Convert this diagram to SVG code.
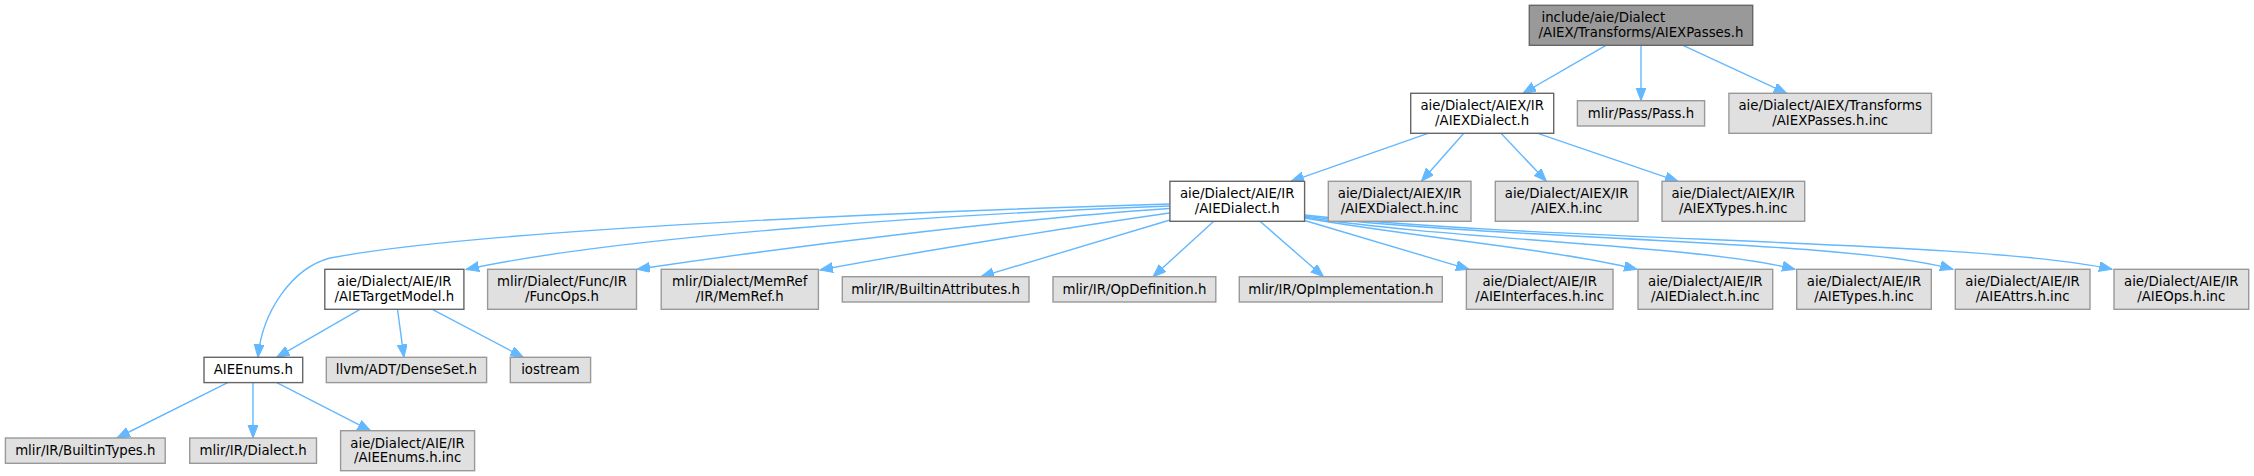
<svg xmlns="http://www.w3.org/2000/svg" width="2254" height="476" viewBox="0 0 2254 476">
<style>
text{font-family:"DejaVu Sans","Liberation Sans",sans-serif;font-size:13.3px;fill:#000;text-anchor:middle}
.root rect{fill:#999999;stroke:#666666;stroke-width:1.4}
.loc rect{fill:#ffffff;stroke:#666666;stroke-width:1.4}
.ext rect{fill:#e0e0e0;stroke:#999999;stroke-width:1.4}
.edges path{fill:none;stroke:#63b8ff;stroke-width:1.4;marker-end:url(#arr)}
</style>
<defs>
<marker id="arr" markerUnits="userSpaceOnUse" markerWidth="14" markerHeight="11" refX="13" refY="5" orient="auto">
<path d="M0,0 L13,5 L0,10 z" fill="#63b8ff" stroke="#63b8ff" stroke-width="1"/>
</marker>
</defs>
<rect width="2254" height="476" fill="#ffffff"/>
<g class="edges">
<path d="M1606,45.3 L1523,93.3"/>
<path d="M1641,45.3 L1641,100.7"/>
<path d="M1683,45.3 L1786.7,93.3"/>
<path d="M1428,133.3 L1291,181.3"/>
<path d="M1463.8,133.3 L1421.4,181.3"/>
<path d="M1501,133.3 L1546.4,181.3"/>
<path d="M1537.8,133.3 L1678,181.3"/>
<path d="M1169.5,204 C1000,209 500,226 330,258 C292,268 262,312 258,357.3"/>
<path d="M1169.5,206 C950,214 620,236 466,269.5"/>
<path d="M1169.5,208.5 C1000,220 780,248 637,269.3"/>
<path d="M1169.5,213 C1050,230 900,255 820,270"/>
<path d="M1170,220 L981,276.7"/>
<path d="M1213.8,221.3 L1153,276.7"/>
<path d="M1260,221.3 L1323.5,276.7"/>
<path d="M1304.6,220.5 L1469,269.3"/>
<path d="M1304.6,218 C1420,238 1560,250 1637,269.3"/>
<path d="M1304.6,217 C1450,240 1700,245 1795,269.3"/>
<path d="M1304.6,216 C1500,240 1850,240 1953,269.3"/>
<path d="M1304.6,215 C1550,242 1980,240 2112,269.3"/>
<path d="M360,309.3 L276.7,357.3"/>
<path d="M397.5,309.3 L404,357.3"/>
<path d="M432.3,309.3 L523.3,357.3"/>
<path d="M227.7,382.7 L117,438"/>
<path d="M253,382.7 L253,438"/>
<path d="M276.8,382.7 L370.5,430.7"/>
</g>
<g id="node1" class="root"><rect x="1529.3" y="5.3" width="223.4" height="40"/><text x="1541.5" y="22.3" style="text-anchor:start">include/aie/Dialect</text><text x="1641" y="36.8">/AIEX/Transforms/AIEXPasses.h</text></g>
<g id="node2" class="loc"><rect x="1410.7" y="93.3" width="143" height="40"/><text x="1482.2" y="110.3">aie/Dialect/AIEX/IR</text><text x="1482.2" y="124.8">/AIEXDialect.h</text></g>
<g id="node3" class="ext"><rect x="1577.4" y="100.7" width="127.2" height="25.3"/><text x="1641" y="117.7">mlir/Pass/Pass.h</text></g>
<g id="node4" class="ext"><rect x="1728.9" y="93.3" width="202.6" height="40"/><text x="1830.2" y="110.3">aie/Dialect/AIEX/Transforms</text><text x="1830.2" y="124.8">/AIEXPasses.h.inc</text></g>
<g id="node5" class="loc"><rect x="1169.9" y="181.3" width="134.7" height="40"/><text x="1237.2" y="198.3">aie/Dialect/AIE/IR</text><text x="1237.2" y="212.8">/AIEDialect.h</text></g>
<g id="node6" class="ext"><rect x="1328.3" y="181.3" width="142.7" height="40"/><text x="1399.6" y="198.3">aie/Dialect/AIEX/IR</text><text x="1399.6" y="212.8">/AIEXDialect.h.inc</text></g>
<g id="node7" class="ext"><rect x="1495.3" y="181.3" width="142.7" height="40"/><text x="1566.6" y="198.3">aie/Dialect/AIEX/IR</text><text x="1566.6" y="212.8">/AIEX.h.inc</text></g>
<g id="node8" class="ext"><rect x="1662" y="181.3" width="142.7" height="40"/><text x="1733.3" y="198.3">aie/Dialect/AIEX/IR</text><text x="1733.3" y="212.8">/AIEXTypes.h.inc</text></g>
<g id="node9" class="loc"><rect x="324.8" y="269.3" width="139.1" height="40"/><text x="394.3" y="286.3">aie/Dialect/AIE/IR</text><text x="394.3" y="300.8">/AIETargetModel.h</text></g>
<g id="node10" class="ext"><rect x="487.6" y="269.3" width="148.9" height="40"/><text x="562" y="286.3">mlir/Dialect/Func/IR</text><text x="562" y="300.8">/FuncOps.h</text></g>
<g id="node11" class="ext"><rect x="661.2" y="269.3" width="157.2" height="40"/><text x="739.8" y="286.3">mlir/Dialect/MemRef</text><text x="739.8" y="300.8">/IR/MemRef.h</text></g>
<g id="node12" class="ext"><rect x="842.3" y="276.7" width="186.7" height="25.3"/><text x="935.6" y="293.7">mlir/IR/BuiltinAttributes.h</text></g>
<g id="node13" class="ext"><rect x="1053" y="276.7" width="162.8" height="25.3"/><text x="1134.4" y="293.7">mlir/IR/OpDefinition.h</text></g>
<g id="node14" class="ext"><rect x="1239.3" y="276.7" width="203" height="25.3"/><text x="1340.8" y="293.7">mlir/IR/OpImplementation.h</text></g>
<g id="node15" class="ext"><rect x="1466.4" y="269.3" width="146.6" height="40"/><text x="1539.7" y="286.3">aie/Dialect/AIE/IR</text><text x="1539.7" y="300.8">/AIEInterfaces.h.inc</text></g>
<g id="node16" class="ext"><rect x="1638" y="269.3" width="134.7" height="40"/><text x="1705.3" y="286.3">aie/Dialect/AIE/IR</text><text x="1705.3" y="300.8">/AIEDialect.h.inc</text></g>
<g id="node17" class="ext"><rect x="1796.7" y="269.3" width="134.6" height="40"/><text x="1864" y="286.3">aie/Dialect/AIE/IR</text><text x="1864" y="300.8">/AIETypes.h.inc</text></g>
<g id="node18" class="ext"><rect x="1955.3" y="269.3" width="134.7" height="40"/><text x="2022.6" y="286.3">aie/Dialect/AIE/IR</text><text x="2022.6" y="300.8">/AIEAttrs.h.inc</text></g>
<g id="node19" class="ext"><rect x="2114" y="269.3" width="134.7" height="40"/><text x="2181.3" y="286.3">aie/Dialect/AIE/IR</text><text x="2181.3" y="300.8">/AIEOps.h.inc</text></g>
<g id="node20" class="loc"><rect x="204" y="357.3" width="98.7" height="25.3"/><text x="253.3" y="374.3">AIEEnums.h</text></g>
<g id="node21" class="ext"><rect x="326.3" y="357.3" width="160.3" height="25.3"/><text x="406.4" y="374.3">llvm/ADT/DenseSet.h</text></g>
<g id="node22" class="ext"><rect x="510.3" y="357.3" width="80.3" height="25.3"/><text x="550.4" y="374.3">iostream</text></g>
<g id="node23" class="ext"><rect x="5.4" y="438" width="159.8" height="25.3"/><text x="85.3" y="455">mlir/IR/BuiltinTypes.h</text></g>
<g id="node24" class="ext"><rect x="189.7" y="438" width="126.8" height="25.3"/><text x="253.1" y="455">mlir/IR/Dialect.h</text></g>
<g id="node25" class="ext"><rect x="340.6" y="430.7" width="134" height="40"/><text x="407.6" y="447.7">aie/Dialect/AIE/IR</text><text x="407.6" y="462.2">/AIEEnums.h.inc</text></g>
</svg>
